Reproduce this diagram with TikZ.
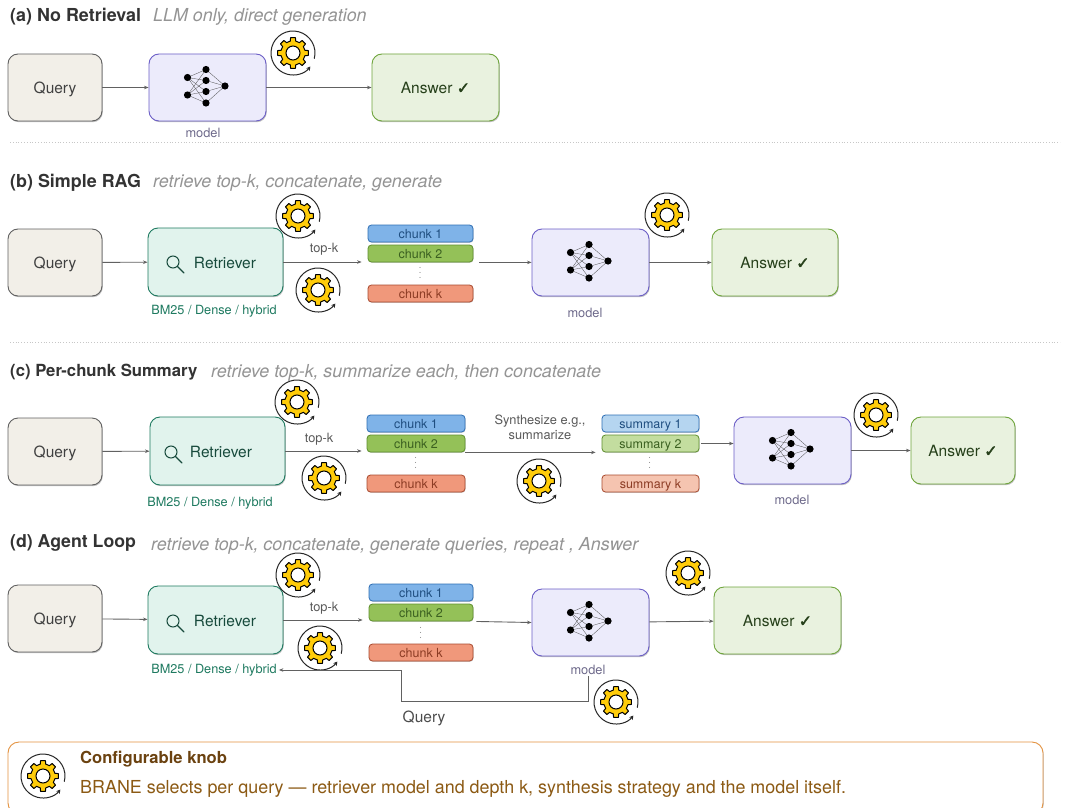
\documentclass[tikz,border=0pt]{standalone}
\usepackage{fontspec}
\setmainfont{TeX Gyre Heros}
\newfontfamily\symfont[FakeBold=2]{DejaVu Sans}
\usetikzlibrary{arrows.meta,shadows,calc}
\newcommand{\fs}[1]{\fontsize{#1}{18}\selectfont}
\newcommand{\ck}{{\symfont\fontsize{16}{15}\selectfont ✓}}
\newcommand{\tb}[1]{\raisebox{-6pt}[0pt][0pt]{#1}}
\newcommand{\tc}[1]{\raisebox{-5.2pt}[0pt][0pt]{#1}}
\definecolor{queryfill}{HTML}{F2EFE8}
\definecolor{modelfill}{HTML}{ECEBFB}
\definecolor{modeledge}{HTML}{6C5FC7}
\definecolor{ansfill}{HTML}{E9F2DF}
\definecolor{ansedge}{HTML}{6FA53C}
\definecolor{anstext}{HTML}{26401A}
\definecolor{retfill}{HTML}{E1F3ED}
\definecolor{retedge}{HTML}{1E7A60}
\definecolor{rettext}{HTML}{174A3C}
\definecolor{gearyellow}{HTML}{FFCC0A}
\definecolor{knobtext}{HTML}{8C5A14}
\definecolor{knobhead}{HTML}{6B4210}
\definecolor{blf}{HTML}{7FB3E8}\definecolor{bls}{HTML}{2F6FB5}\definecolor{blt}{HTML}{1F4E80}
\definecolor{grf}{HTML}{94C158}\definecolor{grs}{HTML}{5F8F2E}\definecolor{grt}{HTML}{3B6020}
\definecolor{rdf}{HTML}{F0987B}\definecolor{rds}{HTML}{A94B30}\definecolor{rdt}{HTML}{8C3C24}
\definecolor{blf2}{HTML}{B5D5F0}\definecolor{grf2}{HTML}{C3DD9F}\definecolor{rdf2}{HTML}{F5C4B0}
\tikzset{
  x=1pt,y=-1pt,
  boxbase/.style={rounded corners=10pt,draw,line width=.9pt,anchor=center,inner sep=0pt,
    drop shadow={shadow xshift=.8pt,shadow yshift=-1.2pt,opacity=.25,fill=black}},
  querybox/.style={boxbase,fill=queryfill,draw=black!62,text=black!75,font=\fs{15.5}},
  modelbox/.style={boxbase,fill=modelfill,draw=modeledge},
  answerbox/.style={boxbase,fill=ansfill,draw=ansedge,text=anstext,font=\fs{15.5}},
  retbox/.style={boxbase,fill=retfill,draw=retedge,text=rettext,font=\fs{15.5}},
  chunkbase/.style={rounded corners=3.5pt,draw,line width=.8pt,inner sep=0pt,font=\fs{12.5},
    drop shadow={shadow xshift=.5pt,shadow yshift=-.8pt,opacity=.2,fill=black}},
  cblue/.style={chunkbase,fill=blf,draw=bls,text=blt},
  cgreen/.style={chunkbase,fill=grf,draw=grs,text=grt},
  cred/.style={chunkbase,fill=rdf,draw=rds,text=rdt},
  sblue/.style={chunkbase,fill=blf2,draw=bls,text=blt},
  sgreen/.style={chunkbase,fill=grf2,draw=grs,text=grt},
  sred/.style={chunkbase,fill=rdf2,draw=rds,text=rdt},
  link/.style={draw=black!62,line width=.9pt,-{Stealth[length=4.5pt,width=3.5pt]}},
  caplabel/.style={font=\fs{12.8},text=modeledge!45!black!70,inner sep=0pt},
  retlabel/.style={font=\fs{12.7},text=retedge,inner sep=0pt},
  toplabel/.style={font=\fs{12.8},text=black!65,inner sep=0pt},
  vdots/.style={font=\fs{11},text=black!45,inner sep=0pt},
  headtext/.style={font=\fs{16.7}\bfseries,text=black!80,anchor=base west,inner sep=0pt},
  subtext/.style={font=\fs{17.9}\itshape,text=black!42,anchor=base west,inner sep=0pt},
  rule/.style={draw=black!22,line width=.8pt,dotted},
  knob/.pic={
    \draw[black!85,line width=1pt,-{Stealth[length=4pt,width=4.5pt]}] (-15:22pt) arc[start angle=-15,end angle=322,radius=22pt];
    \path[fill=gearyellow,draw=black,line width=1pt,line join=round] (-13:12.2pt)
      \foreach \a in {0,45,...,315}{ -- (\a-13:12.2pt) -- (\a-9:15.5pt) -- (\a+9:15.5pt) -- (\a+13:12.2pt)} -- cycle;
    \path[fill=white,draw=black,line width=1pt] (0,0) circle[radius=7pt];
  },
  neural/.pic={
    \foreach \ly in {-10,7.5}{\foreach \my in {-18,-7,4,15.5}{
      \draw[black!70,line width=.3pt] (-20,\ly) -- (-1.5,\my);}}
    \foreach \my in {-18,-7,4,15.5}{\draw[black!70,line width=.3pt] (-1.5,\my) -- (17.5,-1.5);}
    \foreach \p in {(-20,-10),(-20,7.5),(-1.5,-18),(-1.5,-7),(-1.5,4),(-1.5,15.5),(17.5,-1.5)}{
      \fill[black] \p circle[radius=3.6pt];}
  },
  lens/.pic={
    \draw[rettext,line width=1pt] (0,0) circle[radius=6pt];
    \draw[rettext,line width=1.2pt,line cap=round] (4.5,4.5) -- (11,11);
  }
}
\newcommand{\bx}[6]{\node[#1,minimum width=#4-#3,minimum height=#6-#5] (#2) at ({(#3+#4)/2},{(#5+#6)/2}) }
\begin{document}
\begin{tikzpicture}
\useasboundingbox (0,0) rectangle (1065,808);
\fill[white] (0,0) rectangle (1065,808);

% (a)
\node[headtext,font=\fs{17.9}\bfseries] (ta) at (10,22) {(a) No Retrieval};
\node[subtext] (sa) at (153,22) {LLM only, direct generation};
\bx{querybox}{qa}{8}{102}{54}{121} {\tb{Query}};
\bx{modelbox}{ma}{149}{266}{54}{121} {};
\bx{answerbox}{aa}{372}{499}{54}{121} {\tb{Answer \ck}};
\pic at (ma.center) {neural};
\node[caplabel] (la) at (203,133) {model};
\pic at (293,53) {knob};
\draw[link] (qa) -- (ma);
\draw[link] (ma) -- (aa);
\draw[rule] (10,142) -- (1060,142);

% (b)
\node[headtext,font=\fs{17.9}\bfseries] (tb) at (10,187) {(b) Simple RAG};
\node[subtext] (sb) at (153,187) {retrieve top-k, concatenate, generate};
\bx{querybox}{qb}{8}{102}{229}{296} {\tb{Query}};
\bx{retbox}{rb}{148}{283}{228}{296} {\tb{\hspace*{19pt}Retriever}};
\pic at (173,262) {lens};
\node[retlabel] (bb) at (214,311) {BM25 / Dense / hybrid};
\bx{cblue}{b1}{368}{473}{225}{242} {\tc{chunk 1}};
\bx{cgreen}{b2}{368}{473}{245}{262} {\tc{chunk 2}};
\node[vdots] (bd) at (420.5,273) {\rotatebox{90}{$\cdots$}};
\bx{cred}{bk}{368}{473}{285}{302} {\tc{chunk k}};
\bx{modelbox}{mb}{532}{649}{229}{296} {};
\pic at (mb.center) {neural};
\node[caplabel] (lb) at (585,313) {model};
\bx{answerbox}{ab}{712}{838}{229}{296} {\tb{Answer \ck}};
\node[toplabel] (tkb) at (324,249.5) {top-k};
\pic at (298,216) {knob};
\pic at (318,290) {knob};
\pic at (667,215) {knob};
\draw[link] (qb) -- (rb);
\draw[link,shorten >=6pt] (rb.east) -- (rb.east-|b2.west);
\draw[link,shorten <=6pt] (b2.south east) -- (b2.south east-|mb.west);
\draw[link] (mb) -- (ab);
\draw[rule] (10,342) -- (1060,342);

% (c)
\node[headtext] (tc) at (10,376) {(c) Per-chunk Summary};
\node[subtext] (sc) at (211,377) {retrieve top-k, summarize each, then concatenate};
\bx{querybox}{qc}{8}{102}{418}{485} {\tb{Query}};
\bx{retbox}{rc}{150}{285}{417}{485} {\tb{\hspace*{7pt}Retriever}};
\pic at (171,452) {lens};
\node[retlabel] (bc) at (210,503) {BM25 / Dense / hybrid};
\bx{cblue}{c1}{367}{465}{415}{432} {\tc{chunk 1}};
\bx{cgreen}{c2}{367}{465}{435}{452} {\tc{chunk 2}};
\node[vdots] (cd) at (416,463) {\rotatebox{90}{$\cdots$}};
\bx{cred}{ck}{367}{465}{475}{492} {\tc{chunk k}};
\node[toplabel] (tkc) at (319,439.5) {top-k};
\node[toplabel,align=center] (syn) at (540,427) {Synthesize e.g.,\\[-3pt]summarize};
\bx{sblue}{s1}{602}{699}{415}{432} {\tc{summary 1}};
\bx{sgreen}{s2}{602}{699}{435}{452} {\tc{summary 2}};
\node[vdots] (sd) at (650,463) {\rotatebox{90}{$\cdots$}};
\bx{sred}{sk}{602}{699}{475}{492} {\tc{summary k}};
\bx{modelbox}{mc}{734}{851}{417}{484} {};
\pic at (mc.center) {neural};
\node[caplabel] (lc) at (792,500) {model};
\bx{answerbox}{ac}{911}{1015}{417}{484} {\tb{Answer \ck}};
\pic at (297,402) {knob};
\pic at (324,478) {knob};
\pic at (539,481) {knob};
\pic at (876,415) {knob};
\draw[link] (qc) -- (rc);
\draw[link,shorten >=5pt] (rc.east) -- (rc.east-|c2.west);
\draw[link,shorten >=6pt] (c2.south east) -- (c2.south east-|s2.west);
\draw[link,shorten <=2pt] (s2.east) -- (s2.east-|mc.west);
\draw[link] (mc) -- (ac);

% (d)
\node[headtext,font=\fs{17.7}\bfseries] (td) at (10,547) {(d) Agent Loop};
\node[subtext] (sd2) at (151,550) {retrieve top-k, concatenate, generate queries, repeat , Answer};
\bx{querybox}{qd}{8}{102}{585}{652} {\tb{Query}};
\bx{retbox}{rd}{148}{283}{586}{654} {\tb{\hspace*{19pt}Retriever}};
\pic at (173,621) {lens};
\node[retlabel] (bd2) at (214,670) {BM25 / Dense / hybrid};
\bx{cblue}{d1}{369}{473}{584}{601} {\tc{chunk 1}};
\bx{cgreen}{d2}{369}{473}{604}{621} {\tc{chunk 2}};
\node[vdots] (dd) at (421,633) {\rotatebox{90}{$\cdots$}};
\bx{cred}{dk}{369}{473}{644}{661} {\tc{chunk k}};
\bx{modelbox}{md}{532}{649}{589}{656} {};
\pic at (md.center) {neural};
\node[caplabel] (ld) at (588,670) {model};
\bx{answerbox}{ad}{714}{841}{587}{654} {\tb{Answer \ck}};
\node[toplabel] (tkd) at (324,608.5) {top-k};
\node[font=\fs{15.5},text=black!70,inner sep=0pt] (fq) at (424,718) {Query};
\pic at (298,575) {knob};
\pic at (320,648) {knob};
\pic at (616,702) {knob};
\pic at (688,573) {knob};
\draw[link] (qd) -- (rd);
\draw[link,shorten >=6pt] (rd.east) -- (rd.east-|d2.west);
\draw[link,shorten <=3pt] (d2.south east) -- (md.west);
\draw[link] (md) -- (ad);
\coordinate (fa) at (401,701.5);
\coordinate (fb) at (401,670);
\draw[link,shorten <=1pt,shorten >=2pt] (ld.south) -- (ld.south|-fa) -- (fa) -- (fb) -- (fb-|bd2.east);

% legend
\begin{scope}
\clip (0,730) rectangle (1065,808);
\draw[rounded corners=11pt,draw=orange!50!brown!85,line width=.9pt,fill=white,
  drop shadow={shadow xshift=.8pt,shadow yshift=-1.2pt,opacity=.2,fill=black}] (8,742) rectangle (1043,814);
\end{scope}
\pic at (43,776) {knob};
\node[font=\fs{16.6}\bfseries,text=knobhead,anchor=base west,inner sep=0pt] (kh) at (80,763) {Configurable knob};
\node[font=\fs{17.9},text=knobtext,anchor=base west,inner sep=0pt] (kt) at (80,793) {BRANE selects per query — retriever model and depth k, synthesis strategy and the model itself.};
\end{tikzpicture}
\end{document}
